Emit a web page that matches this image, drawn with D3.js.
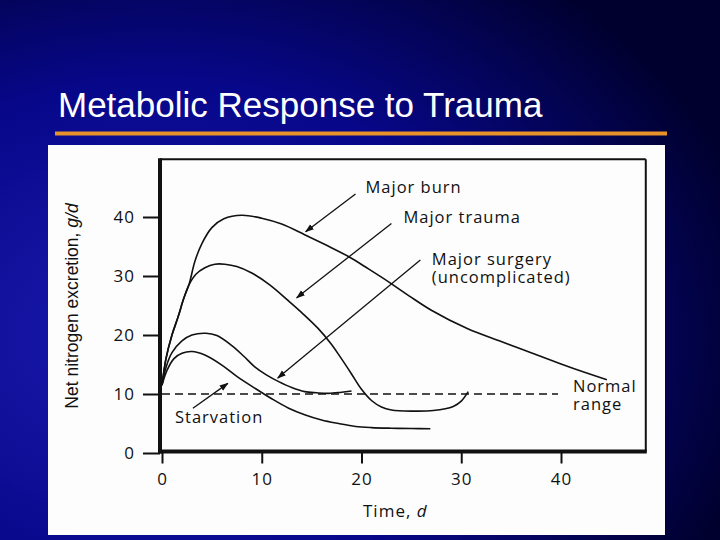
<!DOCTYPE html>
<html>
<head>
<meta charset="utf-8">
<script src="https://cdn.jsdelivr.net/npm/d3@7"></script>
<style>
  html, body { margin: 0; padding: 0; background: #000040; }
  svg { display: block; }
</style>
</head>
<body>
<div id="chart"></div>
<script>
// Data (time in days, nitrogen excretion in g/d)
const burnDays = [0, 0.4, 1.0, 1.6, 2.2, 2.7, 3.3, 4, 5, 6.2, 8, 10, 12, 14.3, 16.5, 18.7, 20.7, 22.9, 24.8, 27, 30.6, 34, 37, 40, 42.5, 44.6];
const burnVals = [11.5, 16, 20, 23, 26.3, 28.5, 32.5, 35.5, 38.2, 39.7, 40.3, 39.8, 38.8, 37, 35.2, 33.3, 31.2, 28.8, 26.6, 24.2, 21.1, 18.9, 17, 15.1, 13.6, 12.4];

const traumaDays = [0, 0.4, 1.0, 1.6, 2.2, 2.7, 3.4, 4.3, 5.3, 6.3, 7.5, 9, 10.8, 12.6, 14, 15.6, 17, 17.9, 19, 20, 21, 22, 23, 25, 27.2, 29.2, 30, 30.7];
const traumaVals = [11.5, 16, 20, 23, 26.3, 28.5, 30.3, 31.4, 32, 32, 31.6, 30.5, 28.5, 25.9, 23.8, 21.2, 18.4, 16.2, 13.4, 10.8, 8.9, 7.8, 7.3, 7.1, 7.2, 7.9, 8.8, 10.4];

const surgeryDays = [0, 0.4, 1, 2, 3, 4.4, 5.5, 7, 8.2, 9.3, 10.5, 11.7, 13, 14.3, 15.5, 16.7, 18, 19];
const surgeryVals = [11.5, 14.5, 17, 19, 20, 20.3, 19.9, 18.2, 16.4, 14.6, 13.2, 12.1, 11.1, 10.4, 10.2, 10.1, 10.3, 10.5];

const starvDays = [0, 0.5, 1.2, 2, 3, 4.3, 6, 7.5, 9.3, 11, 12.7, 14.3, 16, 17.7, 19.4, 21, 23, 25, 26.9];
const starvVals = [11.5, 14, 16, 16.9, 17.2, 16.6, 14.9, 13, 11, 9.2, 7.6, 6.5, 5.6, 5, 4.5, 4.3, 4.2, 4.15, 4.1];

const normalLevel = 10;
const normalEnd = 39.7;

const xTicks = [0, 10, 20, 30, 40];
const yTicks = [0, 10, 20, 30, 40];

// annotation arrows: start near the label, tip at the curve
const arrowNames = ["Major burn", "Major trauma", "Major surgery", "Starvation"];
const arrowFrom = [[19.4, 43.9], [23.0, 38.9], [25.9, 32.7], [3.1, 7.6]];
const arrowTo = [[14.4, 37.5], [13.5, 26.3], [11.6, 12.7], [6.6, 11.8]];

// label text lines and anchor (day, value of first baseline)
const labelLines = [["Major burn"], ["Major trauma"], ["Major surgery", "(uncomplicated)"], ["Starvation"], ["Normal", "range"]];
const labelPos = [[20.4, 44.1], [24.2, 38.9], [27.05, 31.9], [1.3, 5.1], [41.2, 10.3]];

const W = 720, H = 540;

const svg = d3.select("#chart")
    .append("svg")
    .attr("width", W)
    .attr("height", H);

// slide background
const defs = svg.append("defs");
const bg = defs.append("radialGradient")
    .attr("id", "bg")
    .attr("cx", "22%").attr("cy", "62%").attr("r", "85%");
bg.append("stop").attr("offset", "0%").attr("stop-color", "#1c1cb0");
bg.append("stop").attr("offset", "55%").attr("stop-color", "#07078a");
bg.append("stop").attr("offset", "100%").attr("stop-color", "#00002e");

defs.append("marker")
    .attr("id", "arrow")
    .attr("viewBox", "0 0 10 10")
    .attr("refX", 9).attr("refY", 5)
    .attr("markerWidth", 9).attr("markerHeight", 9)
    .attr("markerUnits", "userSpaceOnUse")
    .attr("orient", "auto")
    .append("path")
    .attr("d", "M0,1.5 L10,5 L0,8.5 Z")
    .attr("fill", "#111");

svg.append("rect")
    .attr("width", W).attr("height", H)
    .attr("fill", "url(#bg)");

// title
svg.append("text")
    .attr("x", 58).attr("y", 117)
    .attr("fill", "#fff")
    .style("font-family", "Liberation Sans, Arial, sans-serif")
    .style("font-size", "35px")
    .text("Metabolic Response to Trauma");

svg.append("rect")
    .attr("x", 55).attr("y", 131.5)
    .attr("width", 612).attr("height", 4)
    .attr("fill", "#e8922a");

// white panel
svg.append("rect")
    .attr("x", 48).attr("y", 145)
    .attr("width", 617).attr("height", 390)
    .attr("fill", "#fdfdfd");

// scales
const x = d3.scaleLinear().domain([0, 40]).range([162, 561]);
const y = d3.scaleLinear().domain([0, 40]).range([453, 217]);

const labelFont = "Open Sans, sans-serif";

// frame
const fx0 = x(-0.2), fx1 = x(48.5), fy0 = y(0) - 1.5, fy1 = y(49.8);
svg.append("line")
    .attr("x1", fx0).attr("x2", fx1).attr("y1", fy1).attr("y2", fy1)
    .attr("stroke", "#111").attr("stroke-width", 2);
svg.append("line")
    .attr("x1", fx1).attr("x2", fx1).attr("y1", fy1).attr("y2", fy0)
    .attr("stroke", "#111").attr("stroke-width", 2);

// axes
const yAxis = svg.append("g")
    .attr("transform", `translate(${fx0},0)`)
    .call(d3.axisLeft(y).tickValues(yTicks).tickSize(17).tickPadding(8));
const xAxis = svg.append("g")
    .attr("transform", `translate(0,${fy0})`)
    .call(d3.axisBottom(x).tickValues(xTicks).tickSize(12).tickPadding(9));

[xAxis, yAxis].forEach(g => {
    g.select(".domain").remove();
    g.selectAll(".tick line").attr("stroke", "#111").attr("stroke-width", 2);
    g.selectAll(".tick text")
        .attr("fill", "#111")
        .style("font-family", labelFont)
        .style("font-size", "17px")
        .style("letter-spacing", "1px");
});

svg.append("line")
    .attr("x1", fx0).attr("x2", fx0).attr("y1", fy1 - 1).attr("y2", fy0 + 2)
    .attr("stroke", "#111").attr("stroke-width", 4);
svg.append("line")
    .attr("x1", fx0 - 2).attr("x2", fx1 + 1).attr("y1", fy0).attr("y2", fy0)
    .attr("stroke", "#111").attr("stroke-width", 4);

// normal range dashed line
svg.append("line")
    .attr("x1", x(0)).attr("x2", x(normalEnd))
    .attr("y1", y(normalLevel)).attr("y2", y(normalLevel))
    .attr("stroke", "#111").attr("stroke-width", 1.5)
    .attr("stroke-dasharray", "8,5");

// curves
const line = d3.line()
    .x(d => x(d[0]))
    .y(d => y(d[1]))
    .curve(d3.curveCatmullRom.alpha(0.5));

const series = [
    [burnDays, burnVals],
    [traumaDays, traumaVals],
    [surgeryDays, surgeryVals],
    [starvDays, starvVals]
];

svg.selectAll(".curve")
    .data(series)
    .enter().append("path")
    .attr("class", "curve")
    .attr("d", s => line(d3.zip(s[0], s[1])))
    .attr("fill", "none")
    .attr("stroke", "#111")
    .attr("stroke-width", 1.6);

// arrows
svg.selectAll(".arrow")
    .data(arrowNames)
    .enter().append("line")
    .attr("class", "arrow")
    .attr("x1", (d, i) => x(arrowFrom[i][0]))
    .attr("y1", (d, i) => y(arrowFrom[i][1]))
    .attr("x2", (d, i) => x(arrowTo[i][0]))
    .attr("y2", (d, i) => y(arrowTo[i][1]))
    .attr("stroke", "#111")
    .attr("stroke-width", 1.3)
    .attr("marker-end", "url(#arrow)");

// labels
labelLines.forEach((lines, i) => {
    const t = svg.append("text")
        .attr("x", x(labelPos[i][0]))
        .attr("y", y(labelPos[i][1]))
        .attr("fill", "#111")
        .style("font-family", labelFont)
        .style("font-size", "16.5px")
        .style("letter-spacing", "1px");
    lines.forEach((s, j) => {
        t.append("tspan")
            .attr("x", x(labelPos[i][0]))
            .attr("dy", j === 0 ? 0 : 18)
            .text(s);
    });
});

// axis titles
const xt = svg.append("text")
    .attr("x", 363).attr("y", 517)
    .attr("fill", "#111")
    .style("font-family", labelFont)
    .style("font-size", "17px")
    .style("letter-spacing", "1px");
xt.append("tspan").text("Time, ");
xt.append("tspan").style("font-style", "italic").text("d");

const yt = svg.append("text")
    .attr("transform", "translate(78,306) rotate(-90)")
    .attr("text-anchor", "middle")
    .attr("fill", "#111")
    .style("font-family", "Liberation Sans, Arial, sans-serif")
    .style("font-size", "17.5px");
yt.append("tspan").text("Net nitrogen excretion, ");
yt.append("tspan").style("font-style", "italic").text("g/d");
</script>
</body>
</html>
